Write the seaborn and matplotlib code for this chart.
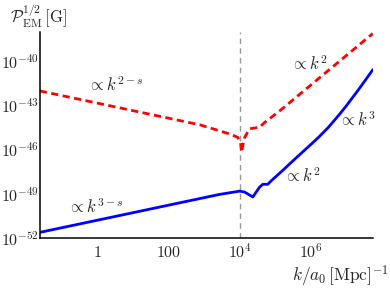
import numpy as np
import pandas as pd
import seaborn as sns
import matplotlib.pyplot as plt
from matplotlib.ticker import FixedLocator, NullFormatter

# values (k in 1/Mpc, P^1/2 in G)
k_em = [0.0232, 746, 2735, 6000, 8790, 10500, 11380, 12500, 13800, 19050, 36300,
        50100, 135000, 257000, 5.62e7]
p_em_red = [1.05e-42, 5.2e-45, 2.0e-45, 1.1e-45, 7.2e-46, 3.2e-46, 6.9e-47, 2.5e-46,
            7.2e-46, 2.8e-45, 3.5e-45, 7.4e-45, 4.7e-44, 1.7e-43, 8.5e-39]

k_b = [0.0232, 746, 2735, 10000, 13800, 23400, 36300, 44700, 61700, 79400, 162000,
       257000, 490000, 1.0e6, 1.78e6, 3.16e6, 6.6e6, 1.0e7, 1.95e7, 3.16e7, 5.69e7]
p_b = [2.45e-52, 4.9e-50, 9.5e-50, 1.58e-49, 1.35e-49, 6.3e-50, 2.95e-49, 4.6e-49,
       4.6e-49, 8.5e-49, 4.0e-48, 1.15e-47, 4.8e-47, 2.3e-46, 8.5e-46, 3.5e-45,
       2.8e-44, 9.8e-44, 8.3e-43, 4.1e-42, 3.0e-41]

k_cross = 1e4
y_ticks = [1e-52, 1e-49, 1e-46, 1e-43, 1e-40]
y_labels = [r"$10^{-52}$", r"$10^{-49}$", r"$10^{-46}$", r"$10^{-43}$", r"$10^{-40}$"]
x_ticks = [1, 1e2, 1e4, 1e6]
x_labels = [r"$1$", r"$100$", r"$10^{4}$", r"$10^{6}$"]

sns.set_style("white")
plt.rcParams["mathtext.fontset"] = "cm"
plt.rcParams["font.family"] = ["DejaVu Serif"]

fig = plt.figure(figsize=(3.9, 2.9), dpi=100)
ax = fig.add_axes([0.1026, 0.179, 0.853, 0.711])

red = pd.DataFrame({"k": k_em, "p": p_em_red})
blue = pd.DataFrame({"k": k_b, "p": p_b})
sns.lineplot(data=red, x="k", y="p", ax=ax, color="#ff0000", lw=2)
ax.lines[-1].set_linestyle((0, (2.6, 1.6)))
sns.lineplot(data=blue, x="k", y="p", ax=ax, color="#0000ff", lw=2)
ax.axvline(k_cross, color="#999999", ls=(0, (4, 3)), lw=1, zorder=0)

ax.set_xscale("log")
ax.set_yscale("log")
ax.set_xlim(0.0235, 5.6e7)
ax.set_ylim(1e-52, 1.1e-38)

for s in ["top", "right"]:
    ax.spines[s].set_visible(False)
for s in ["left", "bottom"]:
    ax.spines[s].set_color("black")
    ax.spines[s].set_linewidth(1.1)

ax.yaxis.set_major_locator(FixedLocator(y_ticks))
ax.set_yticklabels(y_labels)
ax.yaxis.set_minor_locator(FixedLocator([10.0 ** e for e in range(-51, -38) if e % 3 != 2]))
ax.yaxis.set_minor_formatter(NullFormatter())
ax.xaxis.set_major_locator(FixedLocator(x_ticks))
ax.set_xticklabels(x_labels)
ax.xaxis.set_minor_locator(FixedLocator([j * 10.0 ** (m - 1) for m in [0, 2, 4, 6, 8]
                                         for j in range(1, 10)]))
ax.xaxis.set_minor_formatter(NullFormatter())
ax.tick_params(which="major", direction="in", length=3.5, width=0.8, color="#777777",
               labelsize=11.5, pad=1)
ax.tick_params(which="minor", direction="in", length=2, width=0.6, color="#999999")
ax.tick_params(axis="x", which="major", pad=4)
ax.set_xlabel("")
ax.set_ylabel("")

fs = 12
ax.text(3.2, 2.3e-42, r"$\propto k^{2-s}$", fontsize=fs, ha="center", va="center")
ax.text(9.3e5, 7e-41, r"$\propto k^{2}$", fontsize=fs, ha="center", va="center")
ax.text(2.1e7, 9.8e-45, r"$\propto k^{3}$", fontsize=fs, ha="center", va="center")
ax.text(0.88, 1.26e-50, r"$\propto k^{3-s}$", fontsize=fs, ha="center", va="center")
ax.text(5.9e5, 1.6e-48, r"$\propto k^{2}$", fontsize=fs, ha="center", va="center")

fig.text(0.025, 0.99, r"$\mathcal{P}_{\rm EM}^{1/2}\,[{\rm G}]$", fontsize=12,
         ha="left", va="top")
fig.text(0.997, 0.003, r"$k/a_0\,[{\rm Mpc}]^{-1}$", fontsize=12.5, ha="right",
         va="bottom")

fig.savefig("out.png", dpi=100)
